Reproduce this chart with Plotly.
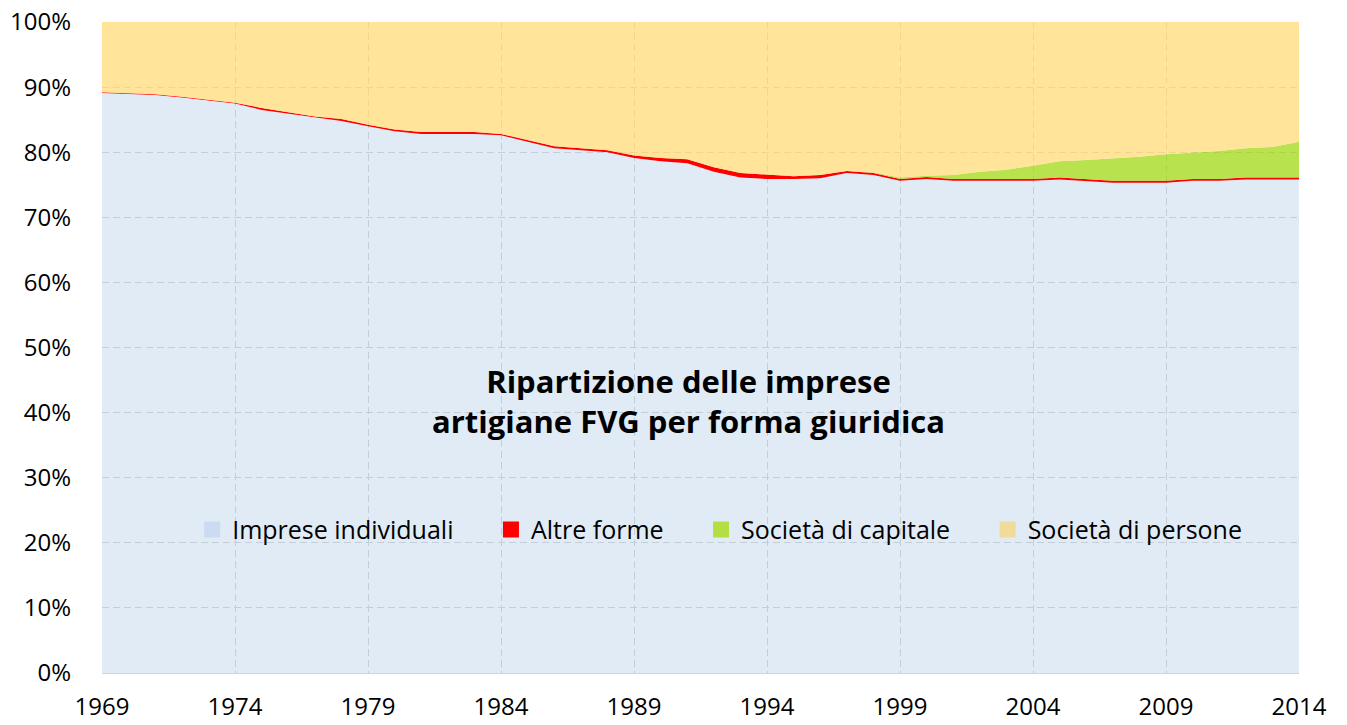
import plotly.graph_objects as go

years = list(range(1969, 2015))

imprese_individuali = [89.1, 88.9, 88.8, 88.4, 87.9, 87.5, 86.5, 85.9, 85.3, 84.8,
                       84.0, 83.2, 82.8, 82.8, 82.8, 82.6, 81.6, 80.6, 80.3, 80.0,
                       79.1, 78.6, 78.3, 77.0, 76.1, 75.9, 75.9, 76.0, 76.8, 76.5,
                       75.6, 75.9, 75.6, 75.6, 75.6, 75.6, 75.8, 75.6, 75.3, 75.3,
                       75.3, 75.6, 75.6, 75.8, 75.8, 75.8]
altre_forme = [0.1, 0.1, 0.1, 0.1, 0.1, 0.1, 0.3, 0.3, 0.2, 0.3,
               0.2, 0.3, 0.3, 0.3, 0.3, 0.2, 0.3, 0.3, 0.3, 0.3,
               0.4, 0.5, 0.6, 0.7, 0.7, 0.7, 0.4, 0.5, 0.3, 0.3,
               0.3, 0.3, 0.3, 0.3, 0.3, 0.3, 0.3, 0.3, 0.3, 0.3,
               0.3, 0.3, 0.3, 0.3, 0.3, 0.3]
societa_capitale = [0, 0, 0, 0, 0, 0, 0, 0, 0, 0,
                    0, 0, 0, 0, 0, 0, 0, 0, 0, 0,
                    0, 0, 0, 0, 0, 0, 0, 0, 0, 0.1,
                    0.2, 0.2, 0.6, 1.1, 1.4, 2.0, 2.5, 2.9, 3.4, 3.7,
                    4.1, 4.0, 4.3, 4.5, 4.7, 5.5]
societa_persone = [10.8, 11.0, 11.1, 11.5, 12.0, 12.4, 13.2, 13.8, 14.5, 14.9,
                   15.8, 16.5, 16.9, 16.9, 16.9, 17.2, 18.1, 19.1, 19.4, 19.7,
                   20.5, 20.9, 21.1, 22.3, 23.2, 23.4, 23.7, 23.5, 22.9, 23.1,
                   23.9, 23.6, 23.5, 23.0, 22.7, 22.1, 21.4, 21.2, 21.0, 20.7,
                   20.3, 20.1, 19.8, 19.4, 19.2, 18.4]

x_ticks = [1969, 1974, 1979, 1984, 1989, 1994, 1999, 2004, 2009, 2014]
y_ticks = [0, 10, 20, 30, 40, 50, 60, 70, 80, 90, 100]
y_tick_labels = [f"{v}%" for v in y_ticks]

FONT = "'Open Sans', sans-serif"
PAD = "\u00a0" * 5

series = [
    ("Imprese individuali", imprese_individuali, "rgba(205,222,240,0.62)", "#C9DCF1"),
    ("Altre forme", altre_forme, "rgba(255,0,0,1)", "#FF0000"),
    ("Società di capitale", societa_capitale, "rgba(170,220,40,0.82)", "#B3DF45"),
    ("Società di persone", societa_persone, "rgba(255,221,128,0.80)", "#F0DB9B"),
]

fig = go.Figure()
for name, vals, col, _ in series:
    fig.add_trace(go.Scatter(
        x=years, y=vals, name=name, stackgroup="one", mode="lines",
        line=dict(width=0, color=col), fillcolor=col, showlegend=False,
    ))
# legend entries with square swatches
for i, (name, _, _, sw) in enumerate(series):
    fig.add_trace(go.Scatter(
        x=[None], y=[None], name=name + (PAD if i < len(series) - 1 else ""),
        mode="markers", marker=dict(symbol="square", size=16, color=sw),
        showlegend=True,
    ))

fig.update_layout(
    width=1347, height=725,
    margin=dict(l=102, r=48, t=22, b=52),
    paper_bgcolor="white", plot_bgcolor="white",
    font=dict(family=FONT, size=24, color="#000000"),
    showlegend=True,
    legend=dict(orientation="h", x=0.516, y=0.22, xanchor="center", yanchor="middle",
                bgcolor="rgba(0,0,0,0)", font=dict(size=25), itemwidth=30,
                traceorder="normal", tracegroupgap=0),
    annotations=[dict(
        text="<b>Ripartizione delle imprese<br>artigiane FVG per forma giuridica</b>",
        x=0.4896, y=0.418, xref="paper", yref="paper", showarrow=False,
        font=dict(size=31, family=FONT, color="#000000"), align="center",
        xanchor="center", yanchor="middle",
    )],
)
fig.update_xaxes(range=[1969, 2014], tickvals=x_ticks, ticktext=[str(v) for v in x_ticks],
                 showgrid=True, gridcolor="#b4b4b4", griddash="7px,4px", gridwidth=1,
                 showline=True, linecolor="#d4d4d4", linewidth=1, ticks="",
                 ticklabelstandoff=12, zeroline=False, automargin=False)
fig.update_yaxes(range=[0, 100], tickvals=y_ticks, ticktext=y_tick_labels,
                 showgrid=True, gridcolor="#b4b4b4", griddash="7px,4px", gridwidth=1,
                 ticks="", ticklabelstandoff=30, zeroline=False, automargin=False)

fig.write_html("out.html", config={"displayModeBar": False},
               post_script="document.body.style.margin='0';")
